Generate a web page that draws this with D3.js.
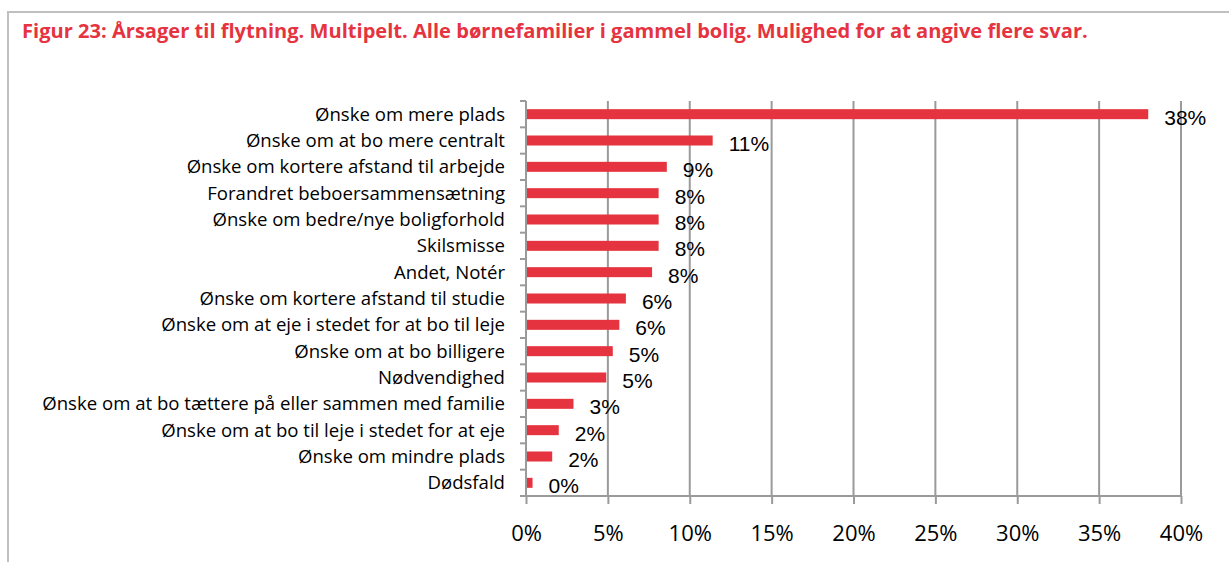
<!DOCTYPE html>
<html><head><meta charset="utf-8">
<script src="https://cdn.jsdelivr.net/npm/d3@7"></script>
<style>body{margin:0;background:#fff;} svg{display:block;font-family:"Open Sans","Liberation Sans",sans-serif;}</style>
</head><body>
<script>
const categories = ["Ønske om mere plads","Ønske om at bo mere centralt","Ønske om kortere afstand til arbejde","Forandret beboersammensætning","Ønske om bedre/nye boligforhold","Skilsmisse","Andet, Notér","Ønske om kortere afstand til studie","Ønske om at eje i stedet for at bo til leje","Ønske om at bo billigere","Nødvendighed","Ønske om at bo tættere på eller sammen med familie","Ønske om at bo til leje i stedet for at eje","Ønske om mindre plads","Dødsfald"];
const values = [38.0, 11.4, 8.6, 8.1, 8.1, 8.1, 7.7, 6.1, 5.7, 5.3, 4.9, 2.9, 2.0, 1.6, 0.4];
const labels = ["38%","11%","9%","8%","8%","8%","8%","6%","6%","5%","5%","3%","2%","2%","0%"];
const xTicks = [0,5,10,15,20,25,30,35,40];
const title = "Figur 23: Årsager til flytning. Multipelt. Alle børnefamilier i gammel bolig. Mulighed for at angive flere svar.";

const W=1229,H=562;
const svg=d3.select("body").append("svg").attr("width",W).attr("height",H);
const red="#E5343F";
svg.append("rect").attr("x",8).attr("y",12).attr("width",1240).attr("height",600).attr("fill","none").attr("stroke","#c0c0c0").attr("stroke-width",2);
const t=svg.append("text").attr("x",22).attr("y",38).attr("fill",red).attr("font-weight","bold").attr("font-size",17).text(title);
const tw=t.node().getComputedTextLength(); t.attr("font-size",17*1066/tw);

const x=d3.scaleLinear().domain([0,40]).range([526,1181]);
const y=d3.scaleBand().domain(categories).range([101,496]).paddingInner(0.62).paddingOuter(0.31);
const grid="#9a9a9a";
svg.append("g").selectAll("line").data(xTicks.slice(1)).join("line")
  .attr("x1",d=>x(d)).attr("x2",d=>x(d)).attr("y1",101).attr("y2",496)
  .attr("stroke",grid).attr("stroke-width",2);
svg.append("g").selectAll("rect").data(values).join("rect")
  .attr("x",x(0)+1).attr("y",(d,i)=>y(categories[i])).attr("height",y.bandwidth())
  .attr("width",d=>x(d)-x(0)-1).attr("fill",red);
const xa=svg.append("g").attr("transform","translate(0,496)")
  .call(d3.axisBottom(x).tickValues(xTicks).tickFormat(d=>d+"%").tickSize(8).tickPadding(21));
xa.select(".domain").attr("stroke",grid).attr("stroke-width",2).attr("d","M"+(x(0)-6)+",0H"+x(40));
xa.selectAll(".tick line").attr("stroke",grid).attr("stroke-width",2);
xa.selectAll(".tick text").attr("font-size",22).attr("fill","#000").attr("font-family","Open Sans, Liberation Sans, sans-serif");
const yb=d3.scaleBand().domain(categories).range([101,496]);
const ya=svg.append("g").attr("transform","translate("+x(0)+",0)");
ya.append("line").attr("x1",0).attr("x2",0).attr("y1",101).attr("y2",496).attr("stroke",grid).attr("stroke-width",2);
ya.selectAll("line.tk").data(categories.concat(["_end"])).join("line").attr("class","tk")
  .attr("x1",-6).attr("x2",0).attr("y1",(d,i)=>101+i*yb.step()).attr("y2",(d,i)=>101+i*yb.step())
  .attr("stroke",grid).attr("stroke-width",2);
const cl=svg.append("g").selectAll("text").data(categories).join("text")
  .attr("x",505).attr("y",d=>yb(d)+yb.bandwidth()/2).attr("dy","0.35em")
  .attr("text-anchor","end").attr("font-size",16).attr("fill","#000").text(d=>d);
let mx=0; cl.each(function(){mx=Math.max(mx,this.getComputedTextLength());});
cl.attr("font-size",16*463/mx);
svg.append("g").selectAll("text").data(values).join("text")
  .attr("x",d=>x(d)+16).attr("y",(d,i)=>y(categories[i])+y.bandwidth()/2+3).attr("dy","0.35em")
  .attr("font-family","Liberation Sans, Arial, sans-serif")
  .attr("font-size",21).attr("fill","#000").text((d,i)=>labels[i]);
</script>
</body></html>
